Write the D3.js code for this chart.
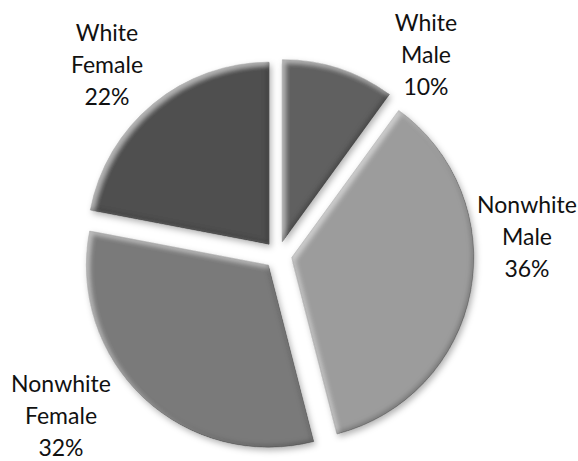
<!DOCTYPE html>
<html>
<head>
<meta charset="utf-8">
<script src="https://cdn.jsdelivr.net/npm/d3@7"></script>
<style>
  body { margin: 0; background: #fff; }
</style>
</head>
<body>
<div id="chart"></div>
<script>
// slice data, clockwise from 12 o'clock
const categories = ["White Male", "Nonwhite Male", "Nonwhite Female", "White Female"];
const shares = [10, 36, 32, 22];
const labelLines = [["White", "Male", "10%"], ["Nonwhite", "Male", "36%"], ["Nonwhite", "Female", "32%"], ["White", "Female", "22%"]];
const sliceColors = ["#606060", "#9c9c9c", "#7a7a7a", "#505050"];

const width = 578
const height = 461
const cx = 278, cy = 255
const radius = 182
const explode = 14
// where excel parked the labels (center of first line)
const labelAt = [[426, 23], [527, 205], [61, 384], [107, 33]]
const lineGap = 32

let svg = d3.select("#chart")
    .append("svg")
    .attr("width", width)
    .attr("height", height);

svg.append("rect")
    .attr("width", "100%")
    .attr("height", "100%")
    .attr("fill", "#fff");

//bevel rims + soft shadow
let defs = svg.append("defs");
let f = defs.append("filter").attr("id", "bevel")
    .attr("x", "-10%").attr("y", "-10%").attr("width", "125%").attr("height", "125%");
f.append("feGaussianBlur").attr("in", "SourceAlpha").attr("stdDeviation", 2.5).attr("result", "blur");
// light rim top-left
f.append("feOffset").attr("in", "blur").attr("dx", 2.5).attr("dy", 2.5).attr("result", "bHi");
f.append("feComposite").attr("in", "SourceAlpha").attr("in2", "bHi")
    .attr("operator", "arithmetic").attr("k2", 1).attr("k3", -1).attr("result", "rimHi");
f.append("feFlood").attr("flood-color", "#fff").attr("flood-opacity", 0.45).attr("result", "white");
f.append("feComposite").attr("in", "white").attr("in2", "rimHi").attr("operator", "in").attr("result", "hi");
// dark rim bottom-right
f.append("feOffset").attr("in", "blur").attr("dx", -2.5).attr("dy", -2.5).attr("result", "bLo");
f.append("feComposite").attr("in", "SourceAlpha").attr("in2", "bLo")
    .attr("operator", "arithmetic").attr("k2", 1).attr("k3", -1).attr("result", "rimLo");
f.append("feFlood").attr("flood-color", "#000").attr("flood-opacity", 0.45).attr("result", "black");
f.append("feComposite").attr("in", "black").attr("in2", "rimLo").attr("operator", "in").attr("result", "lo");
// drop shadow
f.append("feOffset").attr("in", "SourceAlpha").attr("dx", 2).attr("dy", 3).attr("result", "off");
f.append("feGaussianBlur").attr("in", "off").attr("stdDeviation", 3).attr("result", "shBlur");
f.append("feFlood").attr("flood-color", "#000").attr("flood-opacity", 0.3).attr("result", "shCol");
f.append("feComposite").attr("in", "shCol").attr("in2", "shBlur").attr("operator", "in").attr("result", "shadow");
let merge = f.append("feMerge");
merge.append("feMergeNode").attr("in", "shadow");
merge.append("feMergeNode").attr("in", "SourceGraphic");
merge.append("feMergeNode").attr("in", "hi");
merge.append("feMergeNode").attr("in", "lo");

let pie = d3.pie().sort(null).value(function(d) {return d});
let arcs = pie(shares);
let arc = d3.arc().innerRadius(0).outerRadius(radius);

let g = svg.append("g").attr("transform", `translate(${cx},${cy})`);

g.selectAll("path.slice")
    .data(arcs)
    .enter()
    .append("path")
    .attr("class", "slice")
    .attr("transform", function(d) {
        let a = (d.startAngle + d.endAngle) / 2;
        return `translate(${explode * Math.sin(a)},${-explode * Math.cos(a)})`;
    })
    .attr("d", arc)
    .attr("fill", function(d, i) {return sliceColors[i]})
    .attr("stroke", "#333")
    .attr("stroke-opacity", 0.4)
    .attr("stroke-width", 0.8)
    .attr("filter", "url(#bevel)");

//labels
let labels = svg.selectAll("text.lbl")
    .data(labelLines)
    .enter()
    .append("text")
    .attr("class", "lbl")
    .attr("text-anchor", "middle")
    .attr("font-family", "Lato, 'Open Sans', sans-serif")
    .attr("font-size", "23px")
    .attr("fill", "#111");

labels.each(function(lines, i) {
    let t = d3.select(this);
    lines.forEach(function(s, j) {
        t.append("tspan")
            .attr("x", labelAt[i][0])
            .attr("y", labelAt[i][1] + j * lineGap)
            .attr("dy", "0.35em")
            .text(s);
    });
});
</script>
</body>
</html>
